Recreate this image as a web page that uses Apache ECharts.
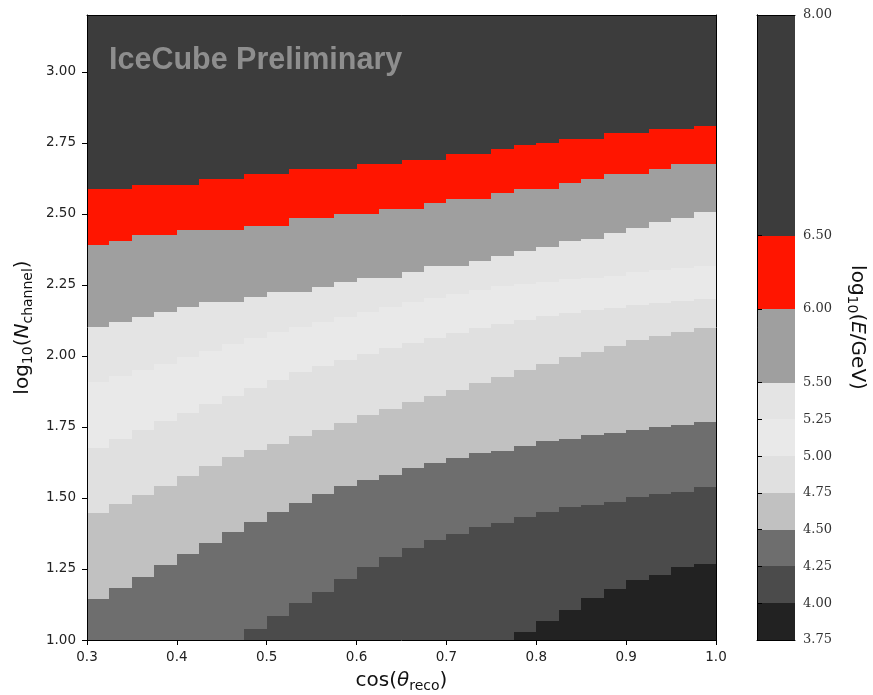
<!DOCTYPE html>
<html>
<head>
<meta charset="utf-8">
<script src="https://cdn.jsdelivr.net/npm/echarts@6/dist/echarts.min.js"></script>
<style>
  html, body { margin: 0; padding: 0; background: #fff; }
  #main { width: 873px; height: 695px; }
</style>
</head>
<body>
<div id="main"></div>
<script>
// column edges along cos(theta_reco)
const xEdges = [0.300, 0.325, 0.350, 0.375, 0.400, 0.425, 0.450, 0.475, 0.500, 0.525,
  0.550, 0.575, 0.600, 0.625, 0.650, 0.675, 0.700, 0.725, 0.750, 0.775,
  0.800, 0.825, 0.850, 0.875, 0.900, 0.925, 0.950, 0.975, 1.000];

// contour levels of log10(E/GeV)
const levels = [3.75, 4.00, 4.25, 4.50, 4.75, 5.00, 5.25, 5.50, 6.00, 6.50, 8.00];

// log10(Nchannel) where each level is crossed, one value per column
const b400 = [1.0, 1.0, 1.0, 1.0, 1.0, 1.0, 1.0, 1.0, 1.0, 1.0, 1.0, 1.0, 1.0, 1.0,
  1.0, 1.0, 1.0, 1.0, 1.0, 1.028, 1.067, 1.105, 1.148, 1.179, 1.211, 1.229, 1.257, 1.267];
const b425 = [1.0, 1.0, 1.0, 1.0, 1.0, 1.0, 1.0, 1.039, 1.084, 1.130, 1.169, 1.214, 1.257, 1.292,
  1.323, 1.352, 1.373, 1.397, 1.411, 1.432, 1.450, 1.468, 1.475, 1.485, 1.503, 1.513, 1.520, 1.538];
const b450 = [1.144, 1.183, 1.222, 1.264, 1.302, 1.341, 1.380, 1.415, 1.450, 1.482, 1.513, 1.541, 1.563, 1.580,
  1.605, 1.622, 1.640, 1.658, 1.665, 1.682, 1.700, 1.707, 1.721, 1.728, 1.738, 1.749, 1.756, 1.767];
const b475 = [1.447, 1.478, 1.510, 1.541, 1.577, 1.612, 1.643, 1.668, 1.689, 1.717, 1.738, 1.763, 1.791, 1.812,
  1.837, 1.858, 1.879, 1.904, 1.925, 1.949, 1.970, 1.995, 2.013, 2.034, 2.055, 2.069, 2.083, 2.097];
const b500 = [1.675, 1.707, 1.738, 1.770, 1.798, 1.830, 1.858, 1.886, 1.914, 1.942, 1.963, 1.985, 2.006, 2.027,
  2.044, 2.062, 2.079, 2.097, 2.111, 2.125, 2.139, 2.150, 2.160, 2.167, 2.178, 2.185, 2.192, 2.199];
const b525 = [1.907, 1.928, 1.949, 1.970, 1.995, 2.016, 2.041, 2.062, 2.083, 2.101, 2.118, 2.136, 2.153, 2.171,
  2.188, 2.203, 2.217, 2.231, 2.245, 2.252, 2.259, 2.269, 2.276, 2.283, 2.294, 2.301, 2.308, 2.315];
const b550 = [2.101, 2.118, 2.136, 2.153, 2.171, 2.188, 2.188, 2.206, 2.224, 2.224, 2.241, 2.259, 2.276, 2.276,
  2.294, 2.315, 2.315, 2.333, 2.350, 2.368, 2.385, 2.403, 2.413, 2.431, 2.449, 2.470, 2.487, 2.508];
const b600 = [2.392, 2.406, 2.424, 2.424, 2.442, 2.442, 2.442, 2.459, 2.459, 2.484, 2.484, 2.498, 2.498, 2.516,
  2.516, 2.537, 2.551, 2.551, 2.572, 2.589, 2.589, 2.607, 2.624, 2.642, 2.642, 2.659, 2.677, 2.677];
const b650 = [2.586, 2.586, 2.603, 2.603, 2.603, 2.621, 2.621, 2.642, 2.642, 2.659, 2.659, 2.659, 2.677, 2.677,
  2.691, 2.691, 2.712, 2.712, 2.730, 2.741, 2.748, 2.765, 2.765, 2.783, 2.783, 2.800, 2.800, 2.811];

// tick labels
const xTicks = [0.3, 0.4, 0.5, 0.6, 0.7, 0.8, 0.9, 1.0];
const yTicks = [1.00, 1.25, 1.50, 1.75, 2.00, 2.25, 2.50, 2.75, 3.00];

const yMin = 1.0, yMax = 3.2;
const bandColors = ['#222222', '#4b4b4b', '#6e6e6e', '#c1c1c1', '#e0e0e0',
  '#e9e9e9', '#e4e4e4', '#9f9f9f', '#ff1500', '#3c3c3c'];

// build rect cells: [x0, x1, y0, y1, band]
const bounds = [b400, b425, b450, b475, b500, b525, b550, b600, b650];
const cells = [];
for (let i = 0; i < xEdges.length - 1; i++) {
  for (let k = 0; k < levels.length - 1; k++) {
    const lo = k === 0 ? yMin : bounds[k - 1][i];
    const hi = k === bounds.length ? yMax : bounds[k][i];
    if (hi > lo) cells.push([xEdges[i], xEdges[i + 1], lo, hi, k]);
  }
}
const cbarCells = [];
for (let k = 0; k < levels.length - 1; k++) {
  cbarCells.push([0, 1, levels[k], levels[k + 1], k]);
}

function renderRect(params, api) {
  const p0 = api.coord([api.value(0), api.value(3)]);
  const p1 = api.coord([api.value(1), api.value(2)]);
  const x = Math.round(p0[0]), y = Math.round(p0[1]);
  return {
    type: 'rect',
    shape: { x: x, y: y, width: Math.round(p1[0]) - x, height: Math.round(p1[1]) - y },
    style: { fill: bandColors[api.value(4)] }
  };
}

const labelStyle = { color: '#222', fontSize: 13.5, fontFamily: 'DejaVu Sans' };
const nameStyle = {
  color: '#111', fontSize: 20, fontFamily: 'DejaVu Sans', lineHeight: 24,
  rich: {
    sub: { fontSize: 14, fontFamily: 'DejaVu Sans', color: '#111', lineHeight: 14, verticalAlign: 'bottom' },
    it: { fontSize: 20, fontFamily: 'DejaVu Sans', color: '#111', fontStyle: 'italic', lineHeight: 24 }
  }
};
const frameLine = { show: true, lineStyle: { color: '#000', width: 1 } };

let myChart = echarts.init(document.getElementById('main'));
let option = {
  animation: false,
  backgroundColor: '#fff',
  graphic: [{
    type: 'text',
    left: 109,
    top: 45,
    z: 20,
    style: {
      text: 'IceCube Preliminary',
      fill: '#8e8e8e',
      font: 'bold 30.5px "Liberation Sans", Arial, sans-serif'
    }
  }],
  grid: [
    { left: 87, top: 15, width: 629, height: 625, outerBoundsMode: 'none', containLabel: false },
    { left: 757, top: 15, width: 38, height: 625, outerBoundsMode: 'none', containLabel: false }
  ],
  xAxis: [
    {
      gridIndex: 0, type: 'value', min: 0.3, max: 1.0, position: 'bottom', z: 10,
      axisLine: frameLine,
      axisTick: { show: true, length: 5, customValues: xTicks, lineStyle: { color: '#000' } },
      axisLabel: Object.assign({ customValues: xTicks, margin: 10, formatter: v => v.toFixed(1) }, labelStyle),
      splitLine: { show: false },
      name: 'cos({it|θ}{sub|reco})', nameLocation: 'middle', nameGap: 28,
      nameTextStyle: nameStyle
    },
    {
      gridIndex: 0, type: 'value', min: 0.3, max: 1.0, position: 'top', z: 10,
      axisLine: frameLine, axisTick: { show: false }, axisLabel: { show: false }, splitLine: { show: false }
    },
    {
      gridIndex: 1, type: 'value', min: 0, max: 1, position: 'bottom', z: 10,
      axisLine: frameLine, axisTick: { show: false }, axisLabel: { show: false }, splitLine: { show: false }
    },
    {
      gridIndex: 1, type: 'value', min: 0, max: 1, position: 'top', z: 10,
      axisLine: frameLine, axisTick: { show: false }, axisLabel: { show: false }, splitLine: { show: false }
    }
  ],
  yAxis: [
    {
      gridIndex: 0, type: 'value', min: yMin, max: yMax, position: 'left', z: 10,
      axisLine: frameLine,
      axisTick: { show: true, length: 5, customValues: yTicks, lineStyle: { color: '#000' } },
      axisLabel: Object.assign({ customValues: yTicks, margin: 11, formatter: v => v.toFixed(2) }, labelStyle),
      splitLine: { show: false },
      name: 'log{sub|10}({it|N}{sub|channel})', nameLocation: 'middle', nameGap: 50,
      nameTextStyle: nameStyle
    },
    {
      gridIndex: 0, type: 'value', min: yMin, max: yMax, position: 'right', z: 10,
      axisLine: frameLine, axisTick: { show: false }, axisLabel: { show: false }, splitLine: { show: false }
    },
    {
      gridIndex: 1, type: 'value', min: 3.75, max: 8.0, position: 'right', z: 10,
      axisLine: frameLine,
      axisTick: { show: true, length: 5, customValues: levels, lineStyle: { color: '#000' } },
      axisLabel: {
        customValues: levels, margin: 8, formatter: v => v.toFixed(2),
        color: '#333', fontSize: 13, fontFamily: 'DejaVu Serif'
      },
      splitLine: { show: false },
      name: 'log{sub|10}({it|E}/GeV)', nameLocation: 'middle', nameGap: 50, nameRotate: -90,
      nameTextStyle: nameStyle
    },
    {
      gridIndex: 1, type: 'value', min: 3.75, max: 8.0, position: 'left', z: 10,
      axisLine: frameLine, axisTick: { show: false }, axisLabel: { show: false }, splitLine: { show: false }
    }
  ],
  series: [
    {
      type: 'custom',
      xAxisIndex: 0, yAxisIndex: 0,
      renderItem: renderRect,
      encode: { x: [0, 1], y: [2, 3] },
      data: cells,
      clip: true
    },
    {
      type: 'custom',
      xAxisIndex: 2, yAxisIndex: 2,
      renderItem: renderRect,
      encode: { x: [0, 1], y: [2, 3] },
      data: cbarCells
    }
  ]
};
myChart.setOption(option);
</script>
</body>
</html>
